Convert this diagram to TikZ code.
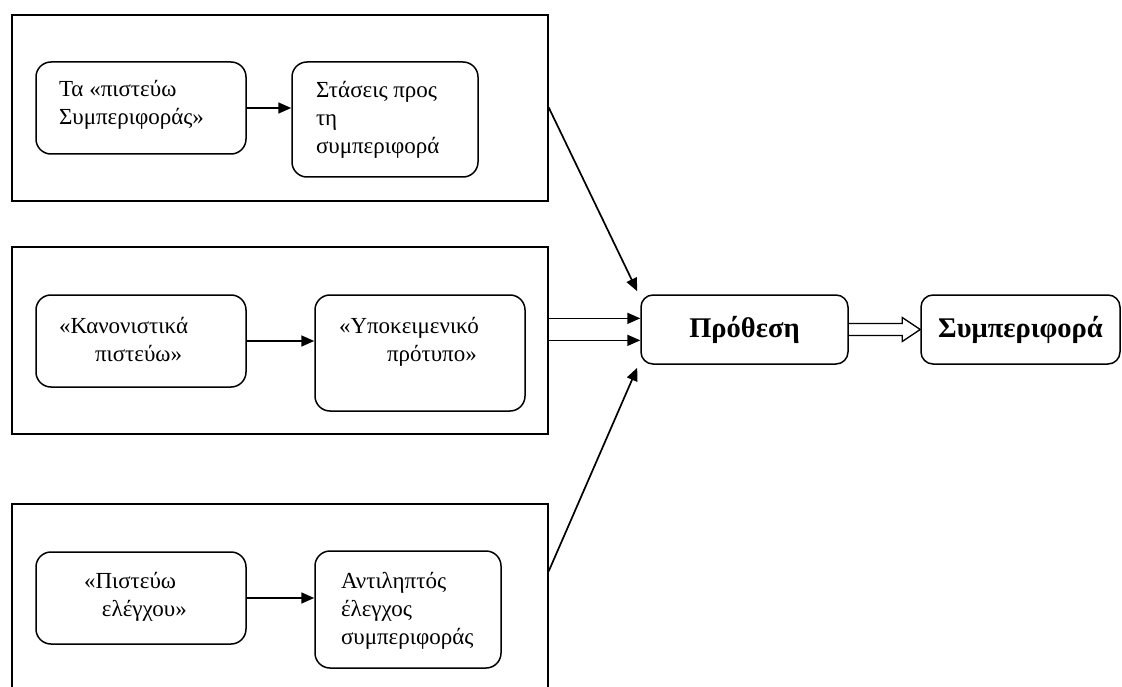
\documentclass[tikz,border=0pt]{standalone}
\usepackage{fontspec}
\setmainfont{Liberation Serif}
\usetikzlibrary{arrows.meta,calc}
\newcommand\bxtext[4]{\parbox[c][#1pt][t]{#2pt}{\fontsize{23}{28}\selectfont\vspace*{#3pt}#4}}
\begin{document}
\begin{tikzpicture}[x=1pt,y=-1pt,
  outerbox/.style={draw,line width=1.3pt,inner sep=0pt},
  innerbox/.style={draw,line width=1.5pt,rounded corners=15pt,inner sep=0pt},
  mainbox/.style={draw,line width=1.5pt,rounded corners=12pt,inner sep=0pt,font=\fontsize{28.5}{32}\selectfont\bfseries},
  arr/.style={line width=1.7pt,-{Triangle[length=13pt,width=11pt]}},
]
\useasboundingbox (0,0) rectangle (1122,687);
\clip (0,0) rectangle (1122,687);
% outer frames
\node[outerbox,minimum width=536pt,minimum height=186pt] (O1) at (280,108) {};
\node[outerbox,minimum width=536pt,minimum height=187pt] (O2) at (280,340.5) {};
\node[outerbox,minimum width=536pt,minimum height=220pt] (O3) at (280,614) {};
% inner boxes
\node[innerbox] (A1) at (141,108) {\bxtext{92}{210}{15.4}{\hspace*{23pt}\strut Τα «πιστεύω\\\hspace*{23pt}Συμπεριφοράς»}};
\node[innerbox] (B1) at (385,119.5) {\bxtext{115}{186}{16.4}{\hspace*{24pt}\strut Στάσεις προς\\\hspace*{24pt}τη\\\hspace*{24pt}συμπεριφορά}};
\node[innerbox] (A2) at (141,341) {\bxtext{92}{210}{18.4}{\hspace*{23pt}\strut «Κανονιστικά\\\hspace*{59pt}πιστεύω»}};
\node[innerbox] (B2) at (420,353) {\bxtext{116}{210}{18.4}{\hspace*{24pt}\strut «Υποκειμενικό\\\hspace*{72pt}πρότυπο»}};
\node[innerbox] (A3) at (141,598) {\bxtext{92}{210}{16.4}{\hspace*{48pt}\strut «Πιστεύω\\\hspace*{66pt}ελέγχου»}};
\node[innerbox] (B3) at (408,609.5) {\bxtext{117}{186}{17.4}{\hspace*{26pt}\strut Αντιληπτός\\\hspace*{26pt}έλεγχος\\\hspace*{26pt}συμπεριφοράς}};
% main boxes
\node[mainbox,minimum width=207pt,minimum height=69pt] (P) at (744.5,329.5) {Πρόθεση};
\node[mainbox,minimum width=199pt,minimum height=69pt] (S) at (1020.5,329.5) {Συμπεριφορά};
% inner arrows
\draw[arr] (A1.east) -- (B1.west |- A1.east);
\draw[arr] (A2.east) -- (B2.west |- A2.east);
\draw[arr] (A3.east) -- (B3.west |- A3.east);
% arrows to Πρόθεση
\coordinate (o1) at ($(O1.north east)+(0,93)$);
\coordinate (o2a) at ($(O2.north east)+(0,72)$);
\coordinate (o2b) at ($(O2.north east)+(0,94)$);
\coordinate (o3) at ($(O3.north east)+(0,68)$);
\draw[arr] (o1) -- ($(P.north west)+(-3,-3)$);
\draw[arr] (o2a) -- (P.west |- o2a);
\draw[arr] (o2b) -- (P.west |- o2b);
\draw[arr] (o3) -- ($(P.south west)+(-3,3)$);
% open double arrow
\draw[line width=1.3pt,line join=miter] ($(P.east)+(0,-6)$) -- ($(S.west)+(-18,-6)$) -- ($(S.west)+(-18,-12)$) -- (S.west) -- ($(S.west)+(-18,12)$) -- ($(S.west)+(-18,6)$) -- ($(P.east)+(0,6)$);
\end{tikzpicture}
\end{document}
